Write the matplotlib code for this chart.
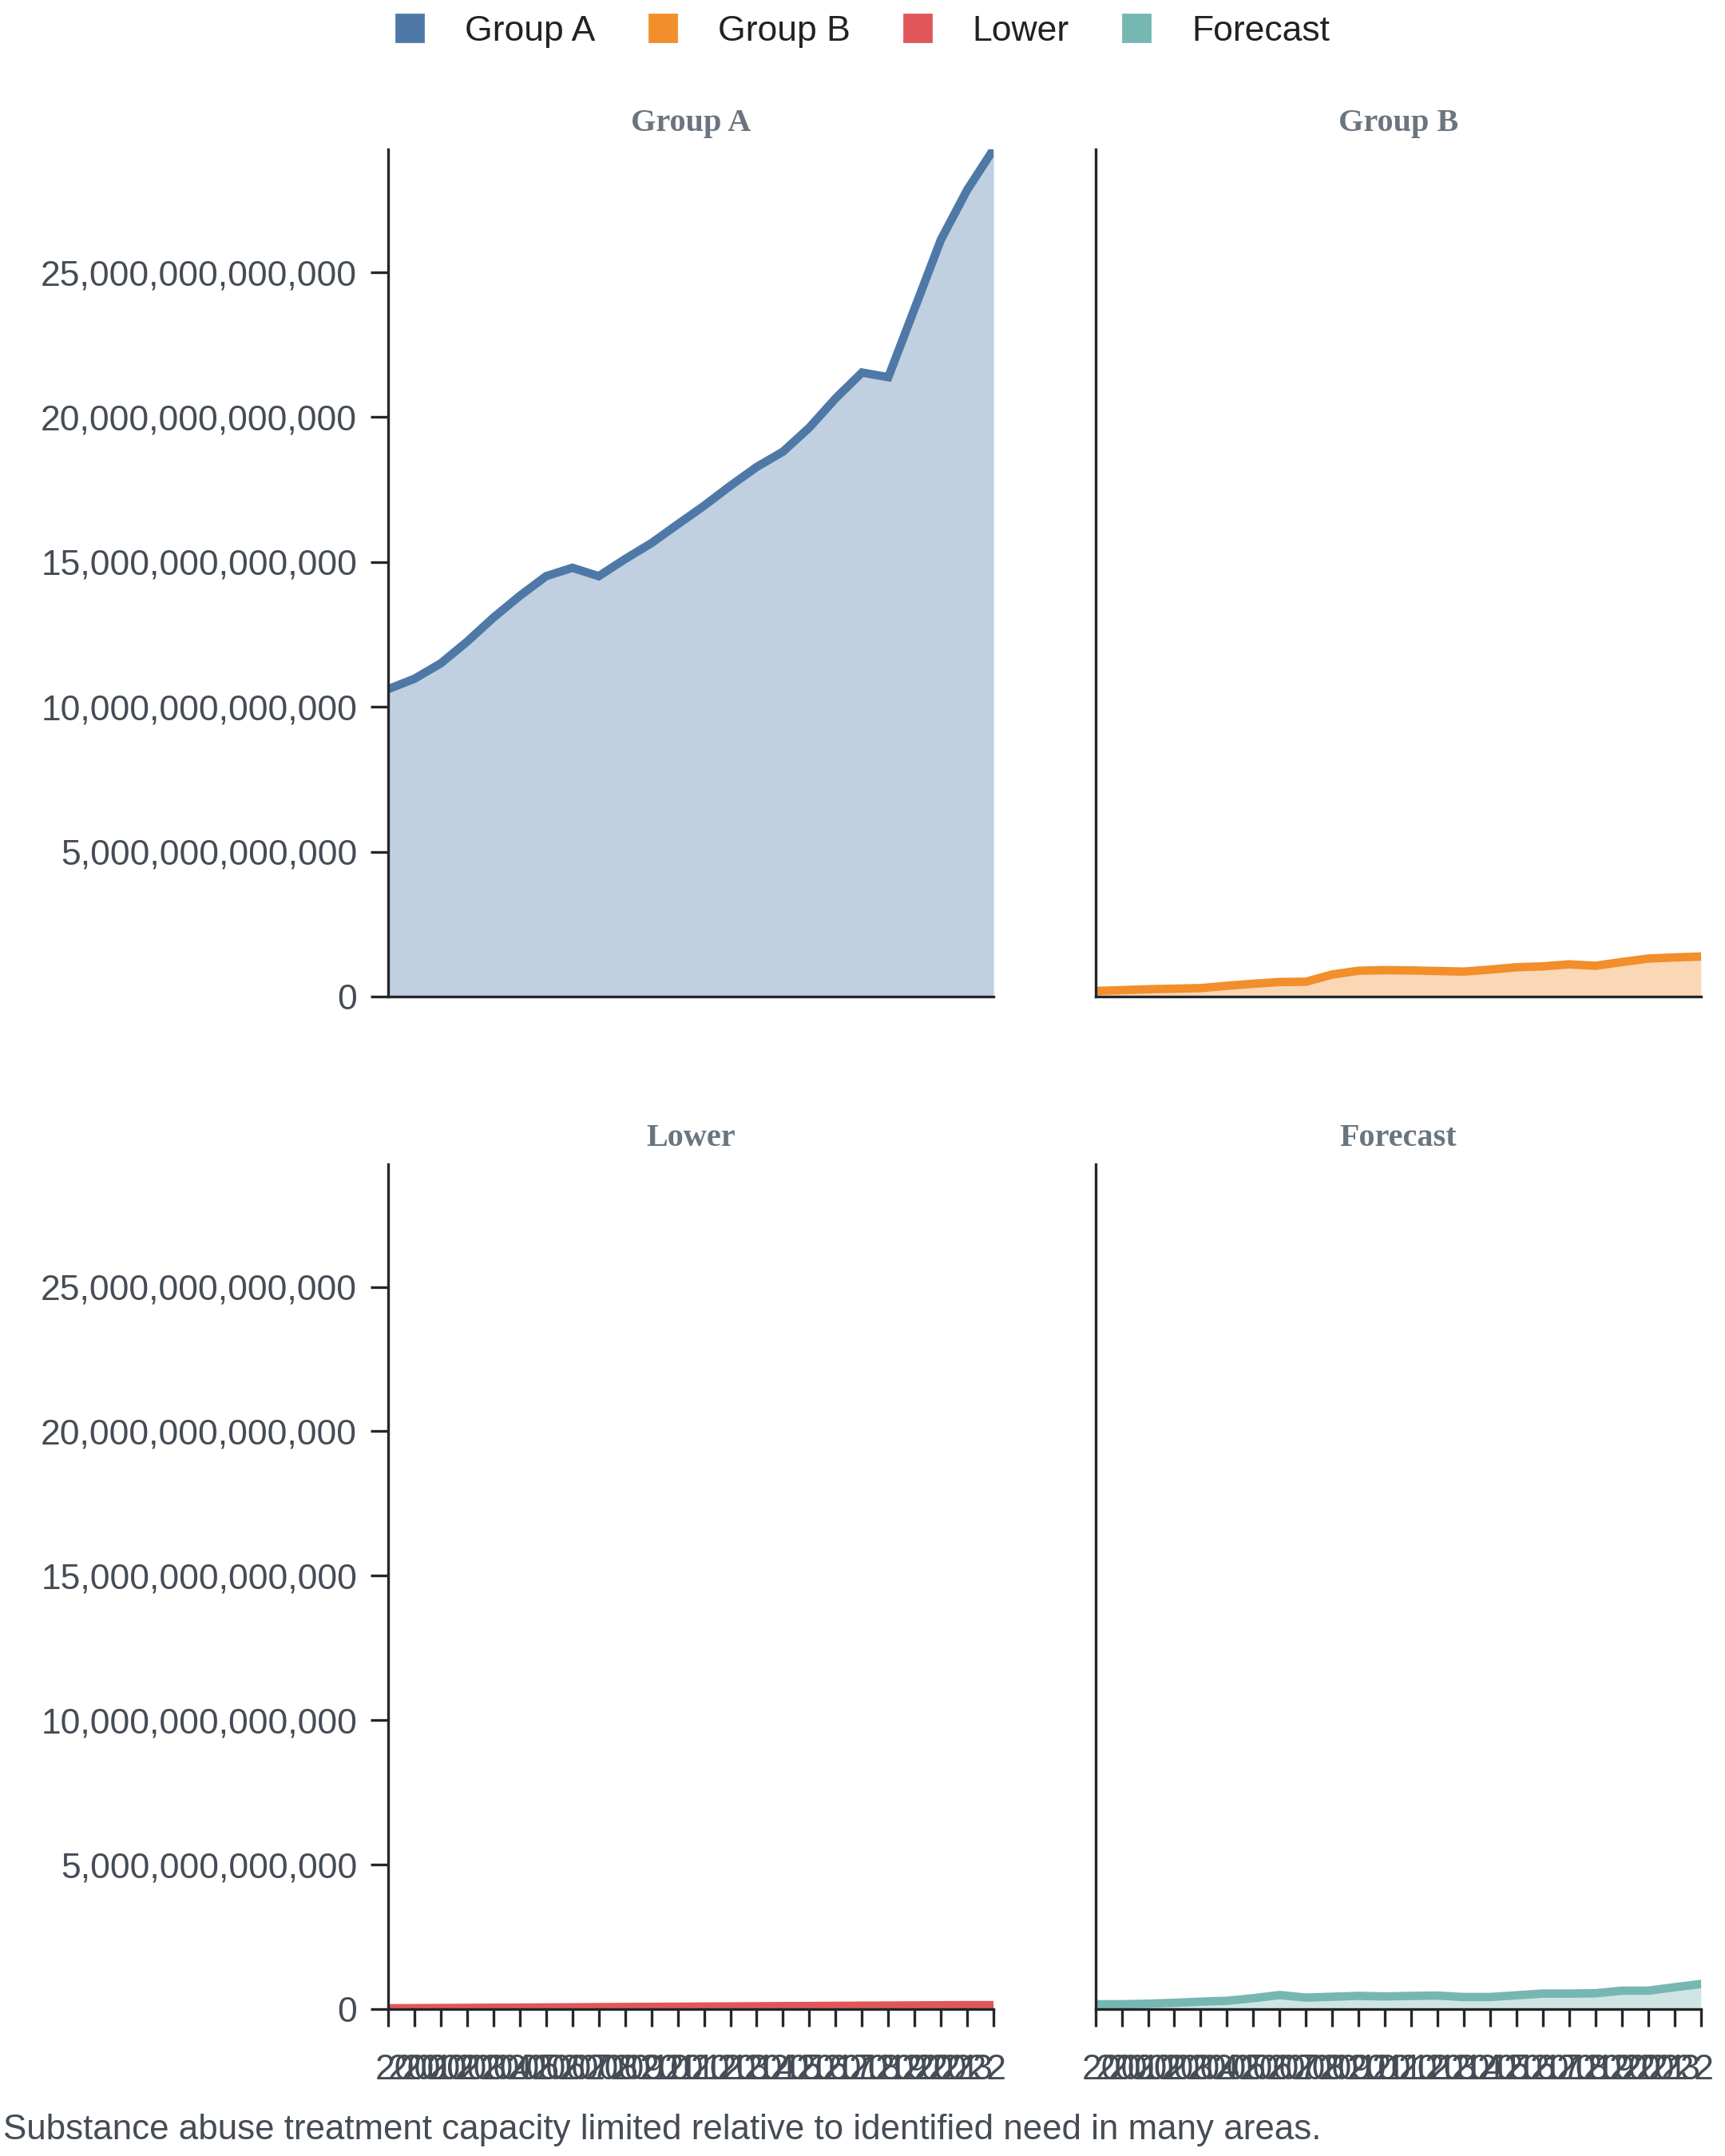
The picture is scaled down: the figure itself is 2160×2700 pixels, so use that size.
import numpy as np
import matplotlib
matplotlib.use("Agg")
import matplotlib.pyplot as plt
from matplotlib.lines import Line2D
from matplotlib.ticker import FuncFormatter, MultipleLocator

# data (values in trillions)
years = list(range(2000, 2024))
group_a = [10.61, 10.97, 11.50, 12.25, 13.08, 13.83, 14.51, 14.80, 14.51, 15.10,
           15.65, 16.30, 16.94, 17.63, 18.28, 18.81, 19.64, 20.65, 21.54, 21.38,
           23.75, 26.13, 27.85, 29.25]
group_b = [0.19, 0.22, 0.25, 0.27, 0.29, 0.37, 0.44, 0.50, 0.51, 0.76,
           0.89, 0.91, 0.90, 0.88, 0.86, 0.93, 1.01, 1.04, 1.11, 1.06,
           1.19, 1.31, 1.35, 1.38]
lower = [0.03, 0.035, 0.04, 0.045, 0.05, 0.055, 0.06, 0.065, 0.07, 0.075,
         0.08, 0.085, 0.09, 0.095, 0.10, 0.105, 0.11, 0.115, 0.12, 0.125,
         0.13, 0.135, 0.14, 0.14]
forecast = [0.17, 0.17, 0.19, 0.22, 0.26, 0.29, 0.38, 0.49, 0.40, 0.43,
            0.46, 0.44, 0.46, 0.47, 0.42, 0.42, 0.48, 0.54, 0.54, 0.55,
            0.64, 0.64, 0.76, 0.87]
names = ["Group A", "Group B", "Lower", "Forecast"]
colors = ["#4e79a7", "#f28e2b", "#e15759", "#76b7b2"]
caption = "Substance abuse treatment capacity limited relative to identified need in many areas."

series = [np.array(s) * 1e12 for s in [group_a, group_b, lower, forecast]]
ymax = max(s.max() for s in series)

plt.rcParams['font.family'] = ['Liberation Sans', 'DejaVu Sans']
TICK_COL = "#454c55"
SPINE_COL = "#23262b"
FS = 16

fig = plt.figure(figsize=(10.8, 13.5), dpi=200)

# axes boxes [left, bottom, width, height] in figure fractions
boxes = [
    [0.225, 0.5378, 0.351, 0.393],
    [0.635, 0.5378, 0.351, 0.393],
    [0.225, 0.0681, 0.351, 0.392],
    [0.635, 0.0681, 0.351, 0.392],
]

for i, (name, col, vals) in enumerate(zip(names, colors, series)):
    ax = fig.add_axes(boxes[i])
    ax.fill_between(years, 0, vals, color=col, alpha=0.35, linewidth=0)
    ax.plot(years, vals, color=col, linewidth=3.8, solid_joinstyle='miter')
    ax.set_xlim(years[0], years[-1])
    ax.set_ylim(0, ymax)
    for s in ['top', 'right']:
        ax.spines[s].set_visible(False)
    for s in ['left', 'bottom']:
        ax.spines[s].set_color(SPINE_COL)
        ax.spines[s].set_linewidth(1.2)
    ax.yaxis.set_major_locator(MultipleLocator(5e12))
    ax.yaxis.set_major_formatter(FuncFormatter(lambda v, p: f"{v:,.0f}"))
    ax.tick_params(axis='both', colors=SPINE_COL, labelcolor=TICK_COL,
                   labelsize=FS, length=8, width=1.2, pad=6)
    if i % 2 == 1:
        ax.tick_params(axis='y', left=False, labelleft=False)
    if i < 2:
        ax.set_xticks(years)
        ax.tick_params(axis='x', bottom=False, labelbottom=False)
    else:
        ax.set_xticks(years)
        labels = ax.set_xticklabels([str(y) for y in years])
        # first and last labels flush with the axis ends
        labels[0].set_ha('left')
        labels[-1].set_ha('right')
        ax.tick_params(axis='x', pad=12)
    ax.text(0.5, 1 + 32 / 1061, name, transform=ax.transAxes, ha='center',
            va='center', fontsize=14.5, fontweight='bold', color="#6b7580",
            family=['Liberation Serif', 'DejaVu Serif'])

handles = [Line2D([], [], linestyle='none', marker='s', markersize=12,
                  markerfacecolor=c, markeredgecolor=c) for c in colors]
fig.legend(handles, names, loc='center', bbox_to_anchor=(0.494, 0.9855), ncol=4,
           frameon=False, fontsize=16, handlelength=2.0, handletextpad=0.55,
           columnspacing=0.9, labelcolor="#222222")

fig.text(0.002, 1 - 2668 / 2700, caption, ha='left', va='center',
         fontsize=15.8, color=TICK_COL)

fig.savefig("out.png", dpi=200)
